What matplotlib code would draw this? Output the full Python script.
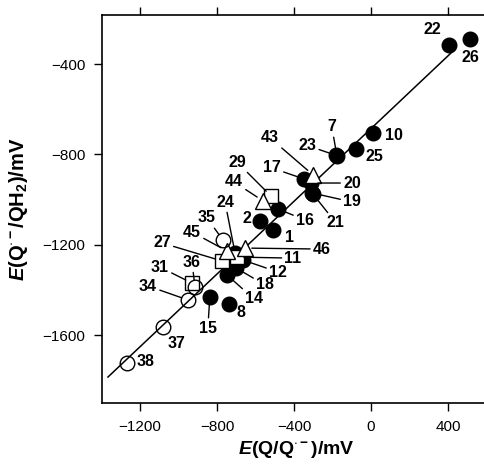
import numpy as np
import matplotlib.pyplot as plt

plt.rcParams['font.family'] = 'Liberation Sans'
plt.rcParams['mathtext.fontset'] = 'custom'
plt.rcParams['mathtext.rm'] = 'Liberation Sans:bold'
plt.rcParams['mathtext.it'] = 'Liberation Sans:bold:italic'
plt.rcParams['mathtext.bf'] = 'Liberation Sans:bold'

# E(Q/Q.-) vs E(Q.-/QH2), mV
# filled circles
fc_id = ['22', '26', '10', '25', '7', '23', '17', '20', '19', '21', '16',
         '2', '1', '24', '12', '18', '14', '15', '8']
fc_x = [405, 514, 10, -78, -177, -180, -348, -312, -306, -302, -483,
        -577, -509, -706, -665, -701, -748, -837, -738]
fc_y = [-316, -289, -706, -776, -807, -805, -909, -927, -971, -975, -1042,
        -1095, -1135, -1237, -1268, -1303, -1334, -1432, -1463]
# open circles
oc_id = ['35', '36', '34', '37', '38']
oc_x = [-769, -914, -950, -1081, -1268]
oc_y = [-1179, -1388, -1445, -1565, -1724]
# open squares
sq_id = ['29', '27', '11', '31']
sq_x = [-519, -774, -696, -930]
sq_y = [-985, -1272, -1255, -1370]
# open triangles
tr_id = ['43', '44', '45', '46']
tr_x = [-301, -561, -748, -655]
tr_y = [-891, -1006, -1228, -1215]

# correlation line
fit_x = [-1366, 421]
fit_y = [-1786, -347]

# label offsets in pixels (dx, dy) and leader line flag
lab_pos = {
    '22': (-17, 16, 0), '26': (0, -19, 0), '10': (21, -2, 0), '25': (18, -8, 0),
    '7': (-5, 29, 1), '23': (-29, 10, 1), '17': (-32, 11, 1), '20': (41, 0, 1),
    '19': (40, -9, 1), '21': (23, -29, 1), '16': (27, -11, 1), '2': (-13, 2, 0),
    '1': (17, -7, 0), '24': (-10, 51, 1), '12': (35, -12, 1), '18': (29, -17, 1),
    '14': (27, -24, 1), '15': (-2, -31, 1), '8': (12, -8, 0),
    '35': (-16, 22, 1), '36': (-3, 25, 1), '34': (-40, 14, 1), '37': (14, -16, 0),
    '38': (19, 2, 0),
    '29': (-34, 34, 1), '27': (-60, 18, 1), '11': (56, -1, 1), '31': (-32, 16, 1),
    '43': (-43, 37, 1), '44': (-29, 19, 1), '45': (-35, 19, 1), '46': (77, -1, 1),
}

fig = plt.figure(figsize=(4.84, 4.65), dpi=100)
ax = fig.add_axes([102/484, 62/465, 382/484, 388/465])

ax.plot(fit_x, fit_y, color='k', lw=1.1, zorder=2)
ax.plot(fc_x, fc_y, 'o', ms=10.5, mfc='k', mec='k', zorder=3)
ax.plot(sq_x, sq_y, 's', ms=9.5, mfc='white', mec='k', mew=1, zorder=4)
ax.plot(tr_x, tr_y, '^', ms=11, mfc='white', mec='k', mew=1, zorder=5)
ax.plot(oc_x, oc_y, 'o', ms=10.5, mfc='none', mec='k', mew=1, zorder=6)

ids = fc_id + oc_id + sq_id + tr_id
xs = fc_x + oc_x + sq_x + tr_x
ys = fc_y + oc_y + sq_y + tr_y
for lab, x, y in zip(ids, xs, ys):
    dx, dy, lead = lab_pos[lab]
    ap = dict(arrowstyle='-', lw=1, color='k', shrinkA=0, shrinkB=5) if lead else None
    ax.annotate(lab, xy=(x, y), xytext=(dx, dy), textcoords='offset pixels',
                ha='center', va='center', fontsize=11.5, fontweight='bold',
                arrowprops=ap, zorder=7)

ax.set_xlim(-1397, 587)
ax.set_ylim(-1901, -183)
ax.set_xticks([-1200, -800, -400, 0, 400])
ax.set_yticks([-1600, -1200, -800, -400])
ax.tick_params(direction='out', length=6, width=1, labelsize=11, pad=6,
               top=True, labeltop=False)
ax.spines['right'].set_visible(False)
for s in ['left', 'bottom', 'top']:
    ax.spines[s].set_linewidth(1.2)

ax.set_xlabel(r'$\mathit{E}$(Q/Q$^{\cdot -}$)/mV', fontsize=14, fontweight='bold')
ax.set_ylabel(r'$\mathit{E}$(Q$^{\cdot -}$/QH$_2$)/mV', fontsize=14.5, fontweight='bold')
ax.xaxis.set_label_coords(0.508, -0.093)
ax.yaxis.set_label_coords(-0.188, 0.5)

fig.savefig('out.png', dpi=100)
